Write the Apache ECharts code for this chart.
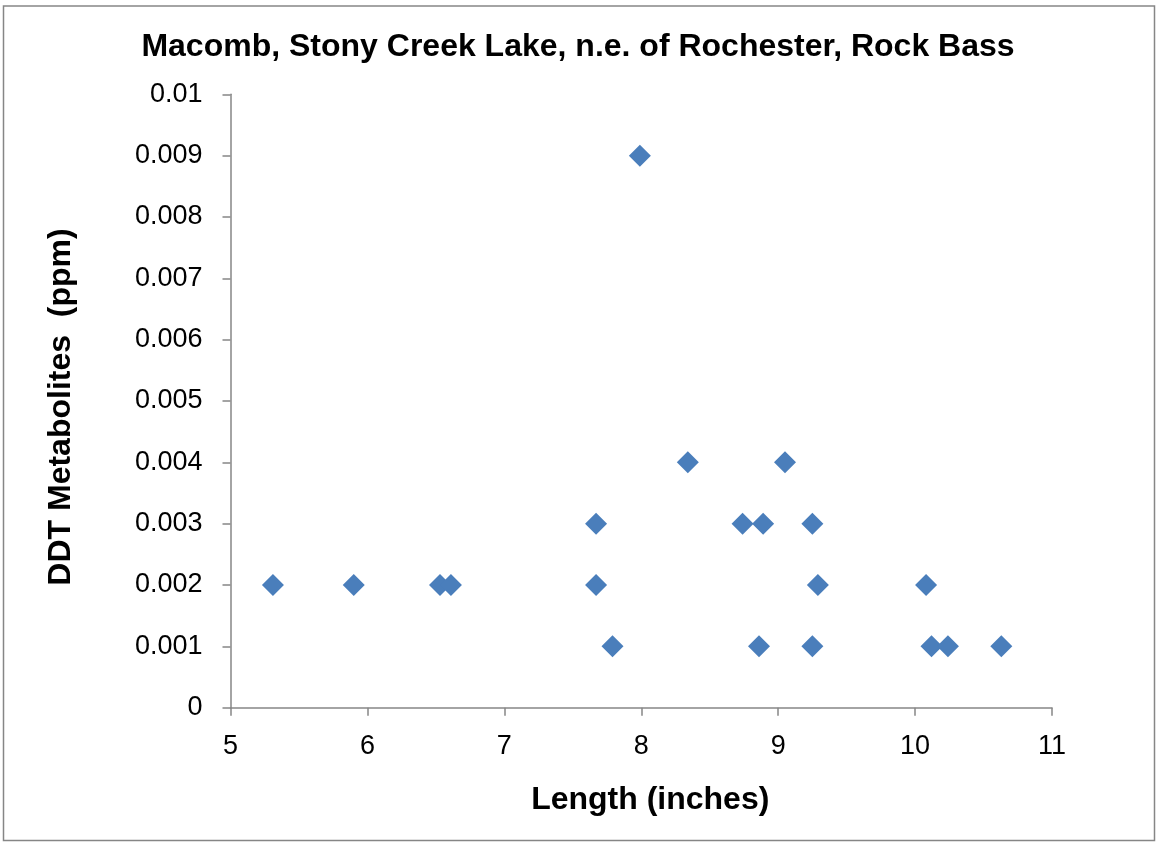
<!DOCTYPE html>
<html>
<head>
<meta charset="utf-8">
<script src="https://cdn.jsdelivr.net/npm/echarts@6/dist/echarts.min.js"></script>
<style>
html,body{margin:0;padding:0;background:#fff;}
#chart{width:1156px;height:842px;}
</style>
</head>
<body>
<div id="chart"></div>
<script>
var lengthInches = [5.31, 5.90, 6.53, 6.61, 7.67, 7.67, 7.79, 7.99, 8.34, 8.74, 8.89, 8.86, 9.05, 9.25, 9.29, 9.25, 10.08, 10.12, 10.24, 10.63];
var ddtPpm =       [0.002, 0.002, 0.002, 0.002, 0.003, 0.002, 0.001, 0.009, 0.004, 0.003, 0.003, 0.001, 0.004, 0.003, 0.002, 0.001, 0.002, 0.001, 0.001, 0.001];
var titleText = 'Macomb, Stony Creek Lake, n.e. of Rochester, Rock Bass';
var xAxisName = 'Length (inches)';
var yAxisName = 'DDT Metabolites  (ppm)';

var points = lengthInches.map(function (x, i) { return [x, ddtPpm[i]]; });
var font = 'Liberation Sans, Arial, sans-serif';
var axisColor = '#868686';

var chart = echarts.init(document.getElementById('chart'), null, {renderer: 'canvas'});
chart.setOption({
  backgroundColor: '#ffffff',
  animation: false,
  title: {
    text: titleText,
    left: 'center',
    top: 26,
    textStyle: {fontFamily: font, fontSize: 32, fontWeight: 'bold', color: '#000'}
  },
  grid: {left: 230.5, right: 104, top: 94.3, bottom: 134.3, containLabel: false},
  xAxis: {
    type: 'value',
    min: 5, max: 11, interval: 1,
    name: xAxisName,
    nameLocation: 'middle',
    nameGap: 76,
    nameTextStyle: {fontFamily: font, fontSize: 32, fontWeight: 'bold', color: '#000', padding: [0, 0, 0, 18]},
    axisLine: {show: true, onZero: false, lineStyle: {color: axisColor, width: 1.5}},
    axisTick: {show: true, inside: false, length: 8, lineStyle: {color: axisColor, width: 1.5}},
    axisLabel: {fontFamily: font, fontSize: 27, color: '#000', margin: 25},
    splitLine: {show: false}
  },
  yAxis: {
    type: 'value',
    min: 0, max: 0.01, interval: 0.001,
    name: yAxisName,
    nameLocation: 'middle',
    nameGap: 153,
    nameRotate: 90,
    nameTextStyle: {fontFamily: font, fontSize: 32, fontWeight: 'bold', color: '#000', padding: [0, 12, 0, 0]},
    axisLine: {show: true, onZero: false, lineStyle: {color: axisColor, width: 1.5}},
    axisTick: {show: true, inside: false, length: 8, lineStyle: {color: axisColor, width: 1.5}},
    axisLabel: {fontFamily: font, fontSize: 27, color: '#000', margin: 28,
      formatter: function (v) { return String(parseFloat(v.toFixed(3))); }},
    splitLine: {show: false}
  },
  graphic: [{
    type: 'rect',
    shape: {x: 3.5, y: 6, width: 1151, height: 834.5},
    style: {fill: null, stroke: axisColor, lineWidth: 1.5},
    silent: true
  }],
  series: [{
    type: 'scatter',
    data: points,
    symbol: 'diamond',
    symbolSize: 22,
    itemStyle: {color: '#4a7ebb', opacity: 1}
  }]
});
</script>
</body>
</html>
